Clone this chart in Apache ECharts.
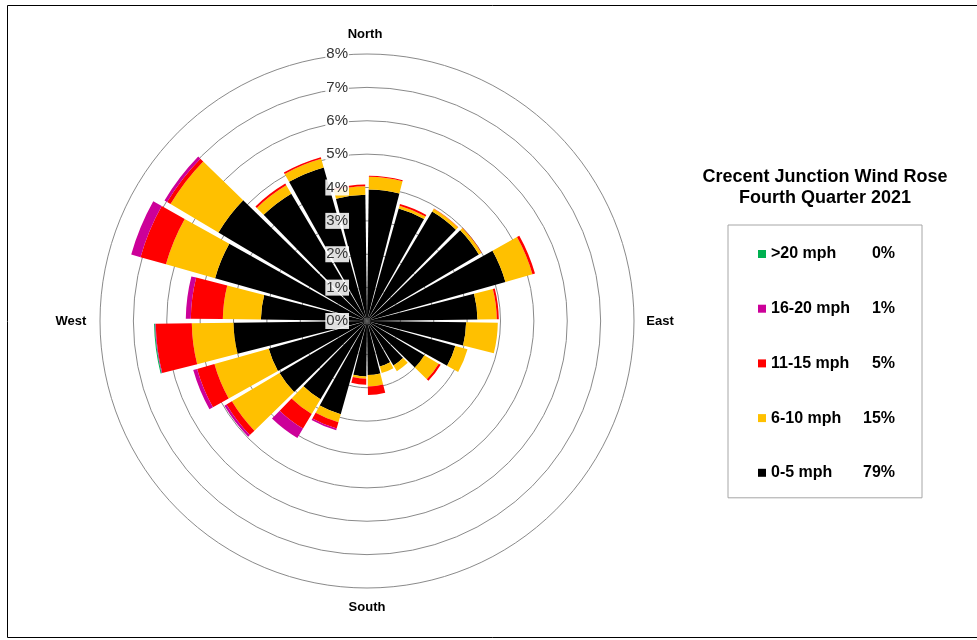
<!DOCTYPE html>
<html>
<head>
<meta charset="utf-8">
<title>Crecent Junction Wind Rose</title>
<script src="https://cdn.jsdelivr.net/npm/echarts@6/dist/echarts.min.js"></script>
<style>
html, body { margin: 0; padding: 0; background: #fff; }
#chart { width: 977px; height: 640px; }
</style>
</head>
<body>
<div id="chart"></div>
<script>
// 24 sectors of 15 degrees, clockwise from north
var directions = ['0', '15', '30', '45', '60', '75', '90', '105', '120', '135', '150', '165',
    '180', '195', '210', '225', '240', '255', '270', '285', '300', '315', '330', '345'];

// percent of hours per sector, per speed class
var speed0to5 = [3.94, 3.50, 3.82, 3.90, 4.31, 3.31, 2.97, 2.75, 2.00, 1.55, 1.42, 1.62,
    1.66, 2.90, 2.73, 3.05, 3.06, 4.00, 3.18, 4.73, 5.18, 4.44, 4.78, 3.78];
var speed6to10 = [0.38, 0.09, 0.09, 0.09, 0.84, 0.58, 0.95, 0.38, 0.50, 0.20, 0.20, 0.34,
    0.07, 0.25, 0.51, 1.66, 1.69, 1.25, 1.14, 1.53, 1.67, 0.29, 0.27, 0.26];
var speed11to15 = [0.03, 0.05, 0.01, 0.01, 0.08, 0.06, 0, 0, 0.07, 0, 0, 0.26,
    0.18, 0.20, 0.51, 0.19, 0.54, 1.08, 0.96, 0.79, 0.12, 0.06, 0.05, 0.05];
var speed16to20 = [0, 0, 0, 0, 0, 0, 0, 0, 0, 0, 0, 0,
    0, 0.05, 0.33, 0.07, 0.12, 0.02, 0.15, 0.29, 0.09, 0, 0, 0];
var speedOver20 = [0, 0, 0, 0, 0, 0, 0, 0, 0, 0, 0, 0,
    0, 0, 0, 0, 0, 0.03, 0, 0, 0, 0, 0, 0];

var classNames = ['0-5 mph', '6-10 mph', '11-15 mph', '16-20 mph', '>20 mph'];
var classShares = ['79%', '15%', '5%', '1%', '0%'];
var compassLabels = ['North', 'East', 'South', 'West'];

var font = '"Liberation Sans", Arial, sans-serif';
var center = [367, 321];
var R = 267;

var classData = [speed0to5, speed6to10, speed11to15, speed16to20, speedOver20];
var classColors = ['#000000', '#FFC000', '#FF0000', '#CC0099', '#00B050'];

var series = classNames.map(function (name, i) {
    return {
        name: name,
        type: 'bar',
        coordinateSystem: 'polar',
        polarIndex: 0,
        stack: 'wind',
        barCategoryGap: '10%',
        itemStyle: { color: classColors[i] },
        data: classData[i]
    };
});

var shareOf = {};
classNames.forEach(function (n, i) { shareOf[n] = classShares[i]; });

var chart = echarts.init(document.getElementById('chart'));
var option = {
    backgroundColor: '#fff',
    animation: false,
    polar: [
        { center: center, radius: R },
        { center: center, radius: R }
    ],
    angleAxis: [
        {
            polarIndex: 0, type: 'category', data: directions, startAngle: 90, clockwise: true,
            axisLine: { show: false }, axisTick: { show: false }, axisLabel: { show: false },
            splitLine: { show: false }
        },
        { polarIndex: 1, type: 'category', data: directions, startAngle: 90, show: false }
    ],
    radiusAxis: [
        {
            polarIndex: 0, min: 0, max: 8, interval: 1,
            axisLine: { show: false }, axisTick: { show: false }, axisLabel: { show: false },
            splitLine: { show: true, lineStyle: { color: '#8a8a8a', width: 1 } }
        },
        {
            polarIndex: 1, min: 0, max: 8, interval: 1, z: 10,
            axisLine: { show: false }, axisTick: { show: false }, splitLine: { show: false },
            axisLabel: {
                formatter: '{value}%', color: '#333', fontSize: 15, fontFamily: font,
                backgroundColor: 'rgba(255,255,255,0.88)', padding: [1, 1, 0, 1], margin: 18
            }
        }
    ],
    legend: {
        orient: 'vertical', left: 728, top: 225,
        padding: [21, 27, 17, 30], itemGap: 38.7,
        itemWidth: 8, itemHeight: 8, icon: 'rect',
        borderColor: '#a6a6a6', borderWidth: 1,
        data: classNames.slice().reverse(),
        formatter: function (name) {
            return '{n|' + name + '}{p|' + shareOf[name] + '}';
        },
        textStyle: {
            fontFamily: font, fontWeight: 'bold', fontSize: 16, color: '#000',
            rich: {
                n: { width: 84, fontFamily: font, fontWeight: 'bold', fontSize: 16, lineHeight: 18, color: '#000' },
                p: { width: 40, align: 'right', fontFamily: font, fontWeight: 'bold', fontSize: 16, lineHeight: 18, color: '#000' }
            }
        }
    },
    graphic: [
        {
            type: 'rect', silent: true,
            shape: { x: 7.5, y: 5.5, width: 975, height: 632 },
            style: { fill: 'none', stroke: '#000', lineWidth: 1 }
        },
        {
            type: 'text', style: {
                text: 'Crecent Junction Wind Rose', x: 825, y: 177,
                textAlign: 'center', textVerticalAlign: 'middle', align: 'center', verticalAlign: 'middle',
                font: 'bold 18px ' + font, fill: '#000'
            }
        },
        {
            type: 'text', style: {
                text: 'Fourth Quarter 2021', x: 825, y: 198,
                textAlign: 'center', textVerticalAlign: 'middle', align: 'center', verticalAlign: 'middle',
                font: 'bold 18px ' + font, fill: '#000'
            }
        }
    ].concat(compassLabels.map(function (t, i) {
        var pos = [[365, 34], [660, 321], [367, 607], [71, 321]][i];
        return {
            type: 'text', style: {
                text: t, x: pos[0], y: pos[1],
                textAlign: 'center', textVerticalAlign: 'middle', align: 'center', verticalAlign: 'middle',
                font: 'bold 13px ' + font, fill: '#000'
            }
        };
    })),
    series: series
};
chart.setOption(option);
</script>
</body>
</html>
